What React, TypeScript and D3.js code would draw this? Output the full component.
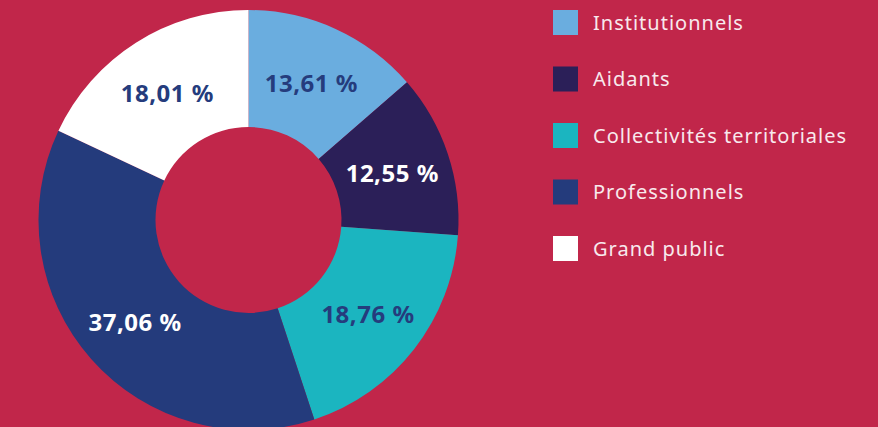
import React from 'react';
import * as d3 from 'd3';

const categories = ['Institutionnels', 'Aidants', 'Collectivités territoriales', 'Professionnels', 'Grand public'];
const shares = [13.61, 12.55, 18.76, 37.06, 18.01];
const colors = ['#6aaddf', '#2b1f58', '#1bb5c0', '#243b7c', '#ffffff'];
const labelColors = ['#253c7d', '#ffffff', '#253c7d', '#ffffff', '#253c7d'];

const width = 878;
const height = 427;
const bg = '#c1264a';

export default function App() {
  const cx = 248.5;
  const cy = 220;
  const outer = 210;
  const inner = 93;

  const pie = d3.pie<number>().sort(null).value((d) => d);
  const arcs = pie(shares);
  const arc = d3.arc<d3.PieArcDatum<number>>().innerRadius(inner).outerRadius(outer);

  const legendX = 553;
  const legendY = 10;
  const legendStep = 56.5;

  return (
    <svg
      width={width}
      height={height}
      style={{ position: 'absolute', left: 0, top: 0, background: bg }}
      fontFamily="'Noto Sans', sans-serif"
    >
      <rect width={width} height={height} fill={bg} />
      <g transform={`translate(${cx},${cy})`}>
        {arcs.map((a, i) => (
          <path key={i} d={arc(a) || ''} fill={colors[i]} />
        ))}
        {arcs.map((a, i) => {
          const [x, y] = arc.centroid(a);
          return (
            <text
              key={'l' + i}
              x={x}
              y={y}
              dy="0.42em"
              textAnchor="middle"
              fontSize={24}
              fontWeight={700}
              letterSpacing={0.5}
              fill={labelColors[i]}
            >
              {shares[i].toFixed(2).replace('.', ',')} %
            </text>
          );
        })}
      </g>
      <g>
        {categories.map((c, i) => (
          <g key={c} transform={`translate(${legendX},${legendY + i * legendStep})`}>
            <rect width={25} height={25} fill={colors[i]} />
            <text x={40} y={12.5} dy="0.36em" fontSize={20} letterSpacing={1} fill="#f8e9ed">
              {c}
            </text>
          </g>
        ))}
      </g>
    </svg>
  );
}
